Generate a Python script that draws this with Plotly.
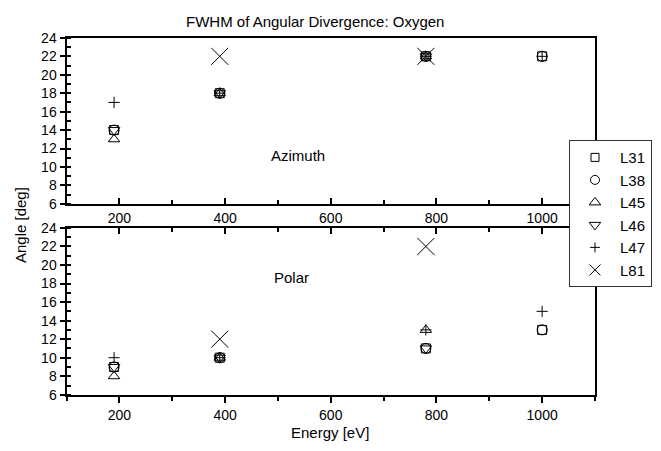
import plotly.graph_objects as go

energy = [190, 390, 780, 1000]

series_names = ["L31", "L38", "L45", "L46", "L47", "L81"]

azimuth = {
    "L31": [14, 18, 22, 22],
    "L38": [14, 18, 22, 22],
    "L45": [13, 18, 22, None],
    "L46": [14, 18, 22, None],
    "L47": [17, 18, 22, 22],
    "L81": [None, 22, 22, None],
}

polar = {
    "L31": [9, 10, 11, 13],
    "L38": [9, 10, 11, 13],
    "L45": [8, 10, 13, None],
    "L46": [9, 10, 11, None],
    "L47": [10, 10, 13, 15],
    "L81": [None, 12, 22, None],
}

x_ticks = [200, 400, 600, 800, 1000]
y_ticks = [6, 8, 10, 12, 14, 16, 18, 20, 22, 24]

# symbol, size in plot, size in legend
symbols = {
    "L31": ("square-open", 9, 8),
    "L38": ("circle-open", 10, 9),
    "L45": ("triangle-up-open", 10, 10),
    "L46": ("triangle-down-open", 10, 10),
    "L47": ("cross-thin-open", 8, 7),
    "L81": ("x-thin-open", 17, 11),
}

FONT = "Liberation Sans, Arial, Helvetica, sans-serif"

fig = go.Figure()
for name in series_names:
    sym, size, lsize = symbols[name]
    mk = dict(symbol=sym, size=size, color="black", line=dict(color="black", width=1))
    fig.add_trace(go.Scatter(x=energy, y=azimuth[name], mode="markers", name=name,
                             marker=mk, xaxis="x", yaxis="y", showlegend=False))
    fig.add_trace(go.Scatter(x=energy, y=polar[name], mode="markers", name=name,
                             marker=mk, xaxis="x2", yaxis="y2", showlegend=False))
    # legend-only entry with the smaller legend symbol
    fig.add_trace(go.Scatter(x=[None], y=[None], mode="markers", name=name,
                             marker=dict(symbol=sym, size=lsize, color="black",
                                         line=dict(color="black", width=1)),
                             xaxis="x", yaxis="y", showlegend=True))

# invisible trace to anchor the top-tick axis of the lower panel
fig.add_trace(go.Scatter(x=energy, y=polar["L31"], mode="markers", marker=dict(opacity=0),
                         xaxis="x3", yaxis="y2", showlegend=False, hoverinfo="skip"))

xdom = [66.5 / 661, 595 / 661]
ytop = [(451 - 203) / 451, (451 - 31) / 451]
ybot = [(451 - 401) / 451, (451 - 228) / 451]

tickfont = dict(family=FONT, size=14, color="black")

common_x = dict(range=[100, 1100], tickvals=x_ticks, showline=True, linecolor="black",
                linewidth=2, mirror=True, showgrid=False, zeroline=False, ticklen=6,
                tickwidth=2, tickcolor="black", tickfont=tickfont)
minor_x = dict(dtick=100, tick0=100, ticklen=4, tickwidth=1.5, tickcolor="black")
common_y = dict(range=[6, 24], tickvals=y_ticks, showline=True, linecolor="black",
                linewidth=2, mirror=True, showgrid=False, zeroline=False, ticks="outside",
                ticklen=5, tickwidth=2, tickcolor="black", tickfont=tickfont,
                minor=dict(dtick=1, tick0=6, ticks="inside", ticklen=4, tickwidth=1.5,
                           tickcolor="black"))

fig.update_layout(
    width=661, height=451,
    margin=dict(l=0, r=0, t=0, b=0),
    paper_bgcolor="white", plot_bgcolor="white",
    font=dict(family=FONT, size=14, color="black"),
    showlegend=True,
    xaxis=dict(domain=xdom, anchor="y", ticks="inside", minor=dict(ticks="inside", **minor_x),
               **common_x),
    yaxis=dict(domain=ytop, anchor="x", **common_y),
    xaxis2=dict(domain=xdom, anchor="y2", ticks="outside",
                minor=dict(ticks="outside", **minor_x), **common_x),
    yaxis2=dict(domain=ybot, anchor="x2", **common_y),
    xaxis3=dict(domain=xdom, anchor="y2", overlaying="x2", side="top", ticks="inside",
                showticklabels=False, minor=dict(ticks="inside", **minor_x),
                **{k: v for k, v in common_x.items() if k not in ("mirror", "tickfont")}),
    legend=dict(x=569 / 661, y=1 - 137 / 451, xanchor="left", yanchor="top",
                bgcolor="white", bordercolor="#333", borderwidth=1,
                font=dict(family=FONT, size=15, color="black"),
                itemwidth=40, tracegroupgap=0),
    annotations=[
        dict(text="FWHM of Angular Divergence: Oxygen", x=315 / 661, y=1 - 14 / 451,
             xref="paper", yref="paper", showarrow=False, xanchor="center", yanchor="middle",
             font=dict(size=15)),
        dict(text="Azimuth", x=298 / 661, y=1 - 153 / 451, xref="paper", yref="paper",
             showarrow=False, xanchor="center", yanchor="middle", font=dict(size=15)),
        dict(text="Polar", x=291 / 661, y=1 - 279 / 451, xref="paper", yref="paper",
             showarrow=False, xanchor="center", yanchor="middle", font=dict(size=15)),
        dict(text="Angle [deg]", x=20 / 661, y=1 - 225 / 451, xref="paper", yref="paper",
             showarrow=False, xanchor="center", yanchor="middle", textangle=-90,
             font=dict(size=15)),
        dict(text="Energy [eV]", x=330 / 661, y=1 - 440 / 451, xref="paper", yref="paper",
             showarrow=False, xanchor="center", yanchor="middle", font=dict(size=15)),
    ],
)

fig.write_html("out.html")
